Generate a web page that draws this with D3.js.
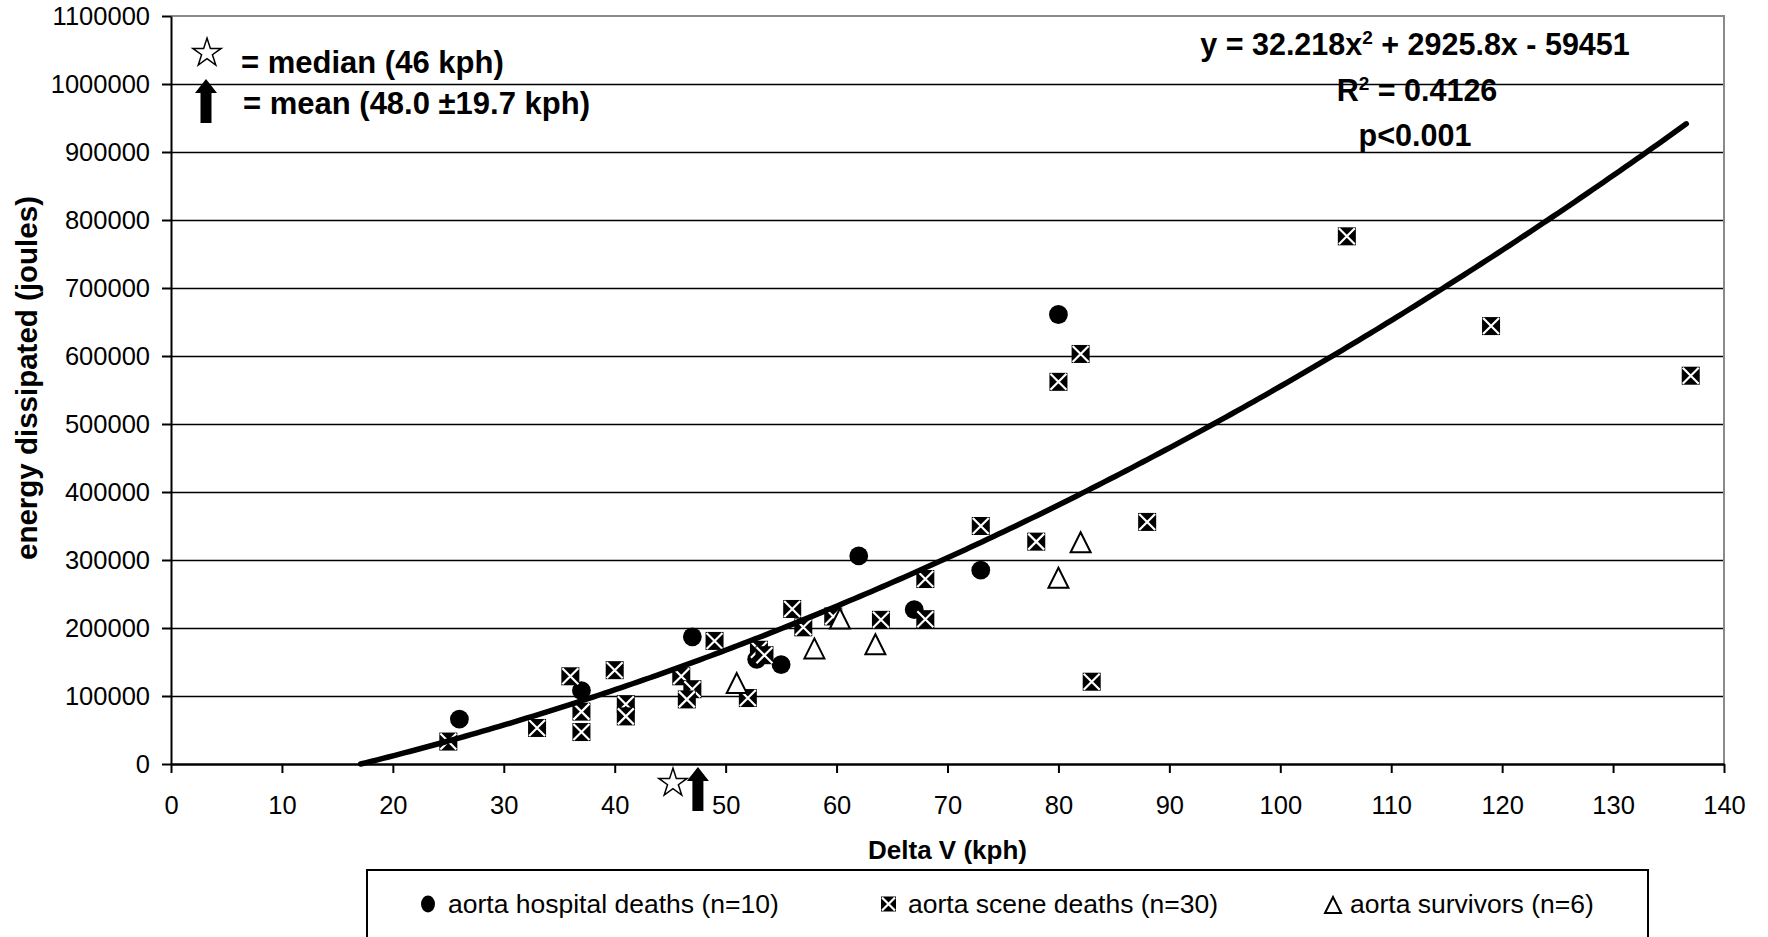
<!DOCTYPE html>
<html>
<head>
<meta charset="utf-8">
<script src="https://cdn.jsdelivr.net/npm/d3@7"></script>
<style>
  html, body { margin: 0; padding: 0; background: #fff; }
  svg { display: block; }
  text { font-family: "Liberation Sans", Arial, sans-serif; fill: #000; }
</style>
</head>
<body>
<svg id="chart" width="1768" height="937"></svg>
<script>
// ---------- data ----------
const hospitalX = [26, 37, 47, 52.8, 55, 62, 67, 73, 80];
const hospitalY = [66000, 108000, 187000, 154000, 146000, 306000, 227000, 285000, 661000];

const sceneX = [25, 33, 36, 37, 37, 40, 41, 41, 46, 47, 46.5, 49, 52, 53, 53.5, 56, 57, 59.7, 64, 68, 68, 73, 78, 80, 82, 83, 88, 106, 119, 137];
const sceneY = [33000, 53000, 129000, 77000, 47000, 138000, 88000, 70000, 129000, 110000, 95000, 181000, 97000, 168000, 160000, 228000, 201000, 217000, 212000, 272000, 213000, 350000, 327000, 562000, 603000, 121000, 356000, 776000, 644000, 571000];

const survivorX = [51, 58, 60.3, 63.5, 80, 82];
const survivorY = [119000, 170000, 214000, 176000, 274000, 326000];

// polynomial trendline printed on the chart: a*x^2 + b*x + c
const trendCoef = [32.218, 2925.8, -59451];
const trendXRange = [17.1, 137];

const medianX = 45.25;   // star marker position on the x axis
const meanX = 47.5;      // arrow marker position on the x axis

const xTicks = [0, 10, 20, 30, 40, 50, 60, 70, 80, 90, 100, 110, 120, 130, 140];
const yTicks = [0, 100000, 200000, 300000, 400000, 500000, 600000, 700000, 800000, 900000, 1000000, 1100000];

const seriesNames = ["aorta hospital deaths (n=10)", "aorta scene deaths (n=30)", "aorta survivors (n=6)"];
const xTitle = "Delta V (kph)";
const yTitle = "energy dissipated (joules)";

// ---------- layout ----------
const svg = d3.select("#chart");
const L = 171, R = 1724, T = 16, B = 764;
const x = d3.scaleLinear().domain([0, 140]).range([L, R]);
const y = d3.scaleLinear().domain([0, 1100000]).range([B, T]);
const FONT = '"Liberation Sans", Arial, sans-serif';

// gridlines
svg.append("g").selectAll("line")
  .data(yTicks.filter(d => d > 0 && d < 1100000))
  .join("line")
  .attr("x1", L).attr("x2", R)
  .attr("y1", d => y(d) + 0.5).attr("y2", d => y(d) + 0.5)
  .attr("stroke", "#000").attr("stroke-width", 1.3);

// plot border top + right (gray)
svg.append("path")
  .attr("d", `M${L},${y(1100000)}H${R}V${B}`)
  .attr("fill", "none").attr("stroke", "#8a8a8a").attr("stroke-width", 2);

// axes
const yAxis = d3.axisLeft(y).tickValues(yTicks).tickSize(9).tickSizeOuter(0)
  .tickPadding(12).tickFormat(d3.format("d"));
const gy = svg.append("g").attr("transform", `translate(${L},0)`).call(yAxis);
gy.select(".domain").attr("stroke", "#000").attr("stroke-width", 2);
gy.selectAll(".tick line").attr("stroke", "#000").attr("stroke-width", 2);
gy.selectAll(".tick text").style("font-family", FONT).style("font-size", "25.5px").attr("fill", "#000");

const xAxis = d3.axisBottom(x).tickValues(xTicks).tickSize(9).tickSizeOuter(0)
  .tickPadding(23).tickFormat(d3.format("d"));
const gx = svg.append("g").attr("transform", `translate(0,${B})`).call(xAxis);
gx.select(".domain").attr("stroke", "#000").attr("stroke-width", 2.5);
gx.selectAll(".tick line").attr("stroke", "#000").attr("stroke-width", 2);
gx.selectAll(".tick text").style("font-family", FONT).style("font-size", "25.5px").attr("fill", "#000");

// axis titles
svg.append("text")
  .attr("x", (L + R) / 2).attr("y", 859)
  .attr("text-anchor", "middle")
  .style("font-size", "26px").style("font-weight", "bold")
  .text(xTitle);
svg.append("text")
  .attr("transform", `translate(26,378) rotate(-90)`)
  .attr("text-anchor", "middle").attr("dominant-baseline", "central")
  .style("font-size", "29.5px").style("font-weight", "bold")
  .text(yTitle);

// ---------- markers ----------
const CIRCLE_R = 9.4, BOX = 18, TRI = 20;
function trianglePath(s) {
  const h = s / 2;
  return `M0,${-h}L${h},${h}L${-h},${h}Z`;
}
function drawCircles(g, xs, ys, r) {
  g.selectAll("circle").data(xs.map((v, i) => [v, ys[i]])).join("circle")
    .attr("cx", d => x(d[0])).attr("cy", d => y(d[1])).attr("r", r)
    .attr("fill", "#000");
}
function xBox(g, cx, cy, s) {
  const h = s / 2;
  const gg = g.append("g").attr("transform", `translate(${cx},${cy})`);
  gg.append("rect").attr("x", -h).attr("y", -h).attr("width", s).attr("height", s).attr("fill", "#000");
  gg.append("path").attr("d", `M${-h + 1},${-h + 1}L${h - 1},${h - 1}M${h - 1},${-h + 1}L${-h + 1},${h - 1}`)
    .attr("stroke", "#fff").attr("stroke-width", 2.2);
}
function tri(g, cx, cy, s) {
  g.append("path").attr("d", trianglePath(s)).attr("transform", `translate(${cx},${cy})`)
    .attr("fill", "#fff").attr("stroke", "#000").attr("stroke-width", 2);
}

const gHosp = svg.append("g");
drawCircles(gHosp, hospitalX, hospitalY, CIRCLE_R);
const gScene = svg.append("g");
sceneX.forEach((v, i) => xBox(gScene, x(v), y(sceneY[i]), BOX));
const gSurv = svg.append("g");
survivorX.forEach((v, i) => tri(gSurv, x(v), y(survivorY[i]), TRI));

// ---------- trendline ----------
const trendPts = d3.range(trendXRange[0], trendXRange[1] + 0.001, 0.5)
  .map(v => [v, trendCoef[0] * v * v + trendCoef[1] * v + trendCoef[2]]);
svg.append("path")
  .attr("d", d3.line().x(d => x(d[0])).y(d => y(Math.max(0, d[1])))(trendPts))
  .attr("fill", "none").attr("stroke", "#000").attr("stroke-width", 5.5)
  .attr("stroke-linecap", "round").attr("stroke-linejoin", "round");

// ---------- annotations ----------
const star = d3.symbol(d3.symbolStar, 250);
function arrowPath() {
  return "M0,0L11,14L5.5,14L5.5,44L-5.5,44L-5.5,14L-11,14Z";
}
// median star and mean arrow below the axis
svg.append("path").attr("d", star()).attr("transform", `translate(${x(medianX)},${B + 19})`)
  .attr("fill", "#fff").attr("stroke", "#000").attr("stroke-width", 1.5);
svg.append("path").attr("d", arrowPath()).attr("transform", `translate(${x(meanX)},${B + 3})`)
  .attr("fill", "#000");

// key in top-left
svg.append("path").attr("d", star()).attr("transform", `translate(207,53)`)
  .attr("fill", "#fff").attr("stroke", "#000").attr("stroke-width", 1.5);
svg.append("path").attr("d", arrowPath()).attr("transform", `translate(206,79)`)
  .attr("fill", "#000");
svg.append("text").attr("x", 241).attr("y", 73)
  .style("font-size", "31px").style("font-weight", "bold")
  .text("= median (46 kph)");
svg.append("text").attr("x", 243).attr("y", 114)
  .style("font-size", "31px").style("font-weight", "bold")
  .text("= mean (48.0 \u00B119.7 kph)");

// equation
const eq = svg.append("text").attr("x", 1415).attr("y", 55).attr("text-anchor", "middle")
  .style("font-size", "30.5px").style("font-weight", "bold");
eq.append("tspan").text("y = 32.218x");
eq.append("tspan").attr("dy", -11).style("font-size", "19px").text("2");
eq.append("tspan").attr("dy", 11).text(" + 2925.8x - 59451");
const r2 = svg.append("text").attr("x", 1417).attr("y", 101).attr("text-anchor", "middle")
  .style("font-size", "30.5px").style("font-weight", "bold");
r2.append("tspan").text("R");
r2.append("tspan").attr("dy", -11).style("font-size", "19px").text("2");
r2.append("tspan").attr("dy", 11).text(" = 0.4126");
svg.append("text").attr("x", 1415).attr("y", 146).attr("text-anchor", "middle")
  .style("font-size", "30.5px").style("font-weight", "bold")
  .text("p<0.001");

// ---------- legend ----------
svg.append("rect").attr("x", 367).attr("y", 870).attr("width", 1281).attr("height", 120)
  .attr("fill", "#fff").attr("stroke", "#000").attr("stroke-width", 2);
const legY = 904;
const legMarkX = [428, 888.5, 1333];
const legTextX = [448, 908, 1350];
svg.append("ellipse").attr("cx", legMarkX[0]).attr("cy", legY).attr("rx", 7).attr("ry", 8.5).attr("fill", "#000");
xBox(svg, legMarkX[1], legY, 15);
tri(svg, legMarkX[2], legY + 1, 16);
seriesNames.forEach((s, i) => {
  svg.append("text").attr("x", legTextX[i]).attr("y", 913)
    .style("font-size", "26.5px").text(s);
});
</script>
</body>
</html>
